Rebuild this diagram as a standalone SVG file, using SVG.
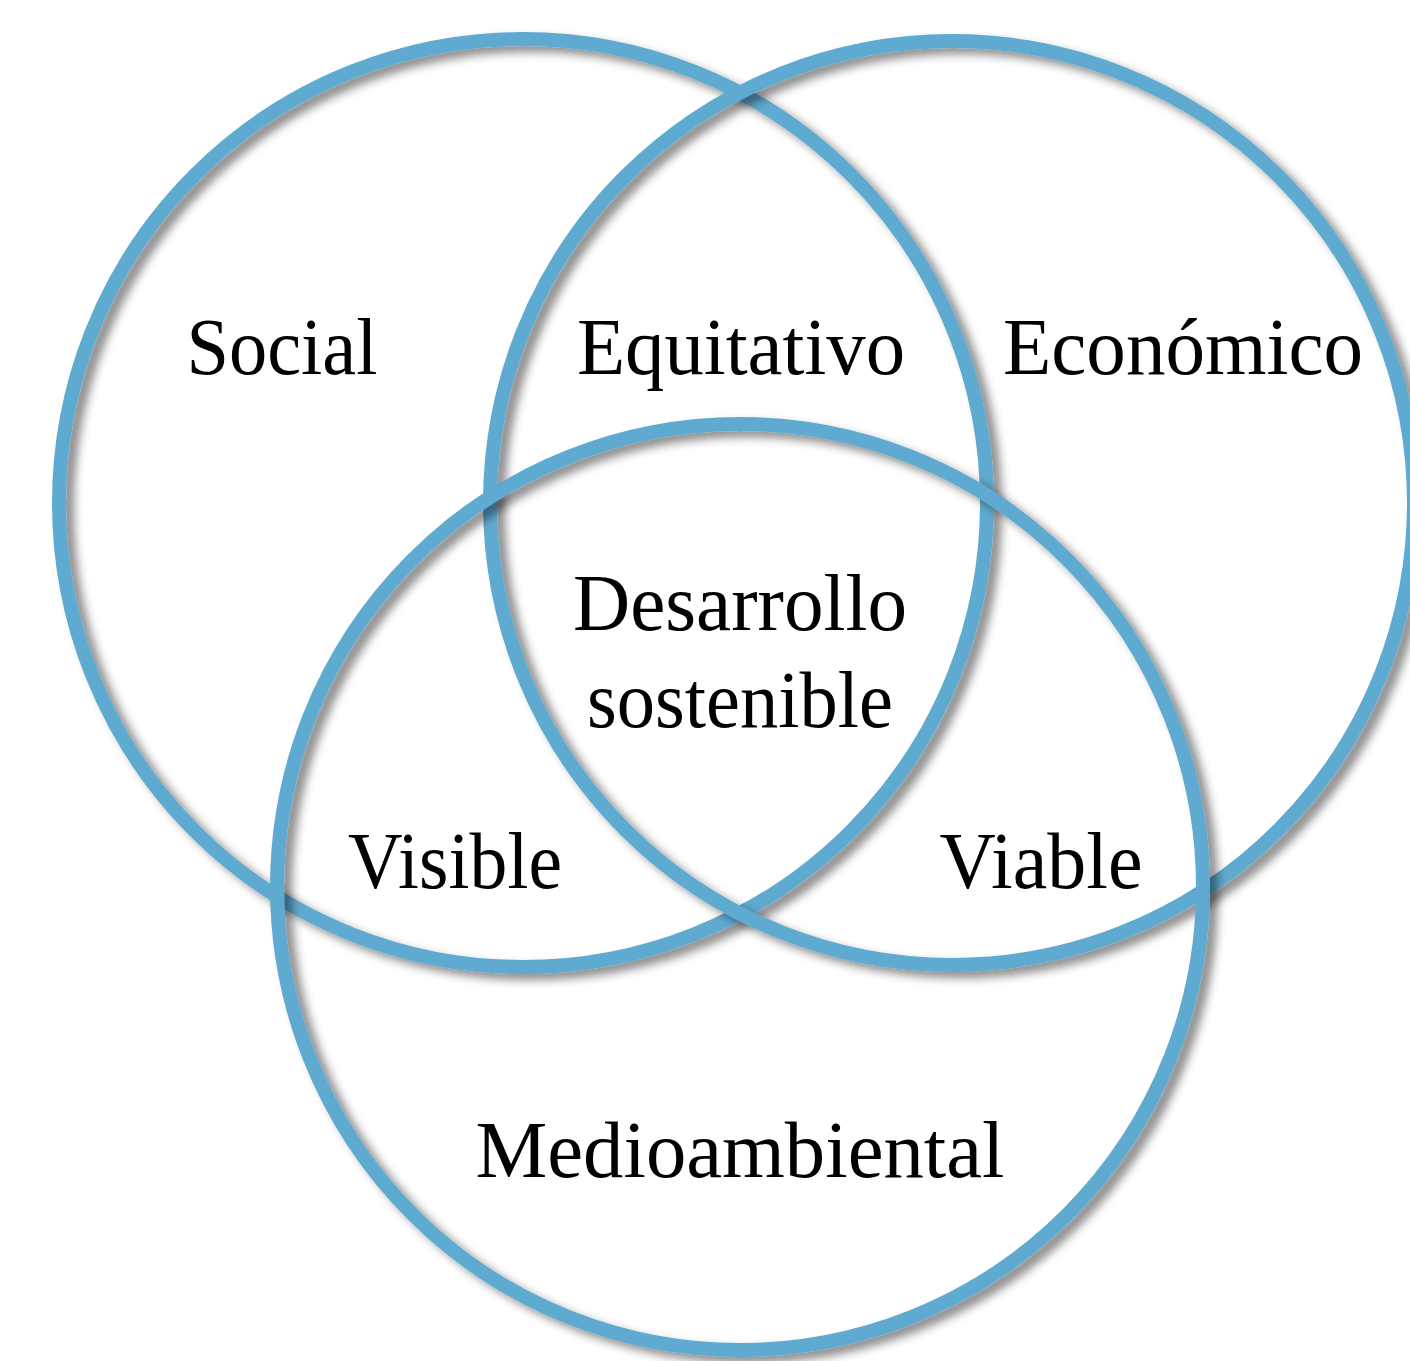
<svg xmlns="http://www.w3.org/2000/svg" width="1410" height="1361" viewBox="0 0 1410 1361">
<style>
.c{fill:none;stroke:#5eaad0;stroke-width:14;filter:url(#sh)}
.t{font-family:"Liberation Serif","Times New Roman",serif;font-size:80px;fill:#000;text-anchor:middle}
</style>
<defs>
<filter id="sh" x="-10%" y="-10%" width="120%" height="120%">
<feDropShadow dx="8" dy="6" stdDeviation="5" flood-color="#000" flood-opacity="0.45"/>
</filter>
</defs>
<rect width="1410" height="1361" fill="#fff"/>
<g id="connectors"></g>
<g id="social"><circle class="c" cx="523" cy="503" r="464"/></g>
<g id="economico"><circle class="c" cx="952" cy="503" r="462"/></g>
<g id="medioambiental"><circle class="c" cx="740" cy="887" r="463"/></g>
<g id="labels">
<text class="t" x="282" y="374" textLength="191" lengthAdjust="spacingAndGlyphs">Social</text>
<text class="t" x="741" y="374" textLength="328" lengthAdjust="spacingAndGlyphs">Equitativo</text>
<text class="t" x="1183" y="374" textLength="360" lengthAdjust="spacingAndGlyphs">Económico</text>
<text class="t" x="740" y="630" textLength="334" lengthAdjust="spacingAndGlyphs">Desarrollo</text>
<text class="t" x="740" y="727" textLength="306" lengthAdjust="spacingAndGlyphs">sostenible</text>
<text class="t" x="455" y="888" textLength="214" lengthAdjust="spacingAndGlyphs">Visible</text>
<text class="t" x="1041" y="888" textLength="203" lengthAdjust="spacingAndGlyphs">Viable</text>
<text class="t" x="740" y="1177" textLength="529" lengthAdjust="spacingAndGlyphs">Medioambiental</text>
</g>
</svg>
